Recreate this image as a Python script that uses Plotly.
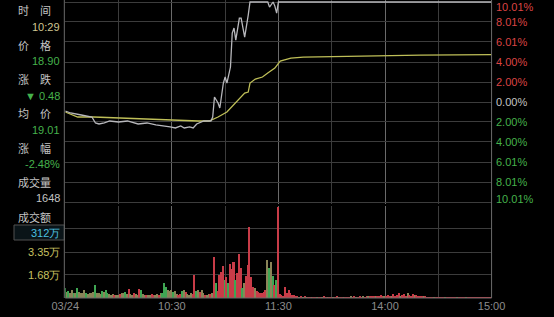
import plotly.graph_objects as go

# ---------------- data ----------------
# minute index (0 = 09:30 ... 120 = 11:30/13:00 ... 240 = 15:00)
price_t = [0, 3, 9, 13, 15, 17, 19, 22, 25, 30, 35, 41, 46, 51, 56, 59, 62, 65, 67, 70,
           72, 74, 78, 82, 83, 84, 86, 87, 89, 90, 91, 93, 94, 95, 96, 98, 99, 101, 103,
           104, 114, 115, 117, 118, 119, 120, 240]
price_pct = [-0.9, -1.1, -1.3, -1.4, -1.5, -2.1, -2.2, -2.1, -1.9, -2.0, -1.9, -2.2, -2.1,
             -2.3, -2.4, -2.5, -2.6, -2.4, -2.6, -2.5, -2.6, -2.2, -1.9, -1.9, -1.5, 0.5,
             -0.1, -0.6, 1.9, 2.5, 1.9, 3.5, 6.9, 7.4, 6.2, 8.4, 8.4, 6.5, 8.7,
             10.01, 10.01, 9.5, 10.01, 9.6, 8.9, 10.01, 10.01]

avg_t = [0, 7, 16, 30, 42, 59, 75, 81, 86, 91, 97, 101, 103, 104, 107, 111, 114, 118,
         121, 127, 134, 160, 200, 240]
avg_pct = [-1.0, -1.5, -1.5, -1.6, -1.7, -1.8, -1.9, -1.9, -1.5, -1.0, 0.2, 0.9, 1.0,
           1.9, 2.3, 2.5, 2.9, 3.4, 4.1, 4.4, 4.5, 4.6, 4.7, 4.75]

# per-minute volume (万), t = 0..240
volume = [
    0.73, 0.45, 0.5, 0.4, 0.55, 0.4, 0.35, 0.75, 0.45, 0.4,
    0.35, 0.6, 0.35, 0.3, 0.4, 0.35, 0.45, 0.95, 0.4, 0.35,
    0.3, 0.5, 0.45, 0.55, 0.4, 0.3, 0.25, 0.3, 0.2, 0.25,
    0.2, 0.3, 0.4, 0.35, 0.45, 0.3, 0.65, 0.3, 0.25, 0.35,
    0.3, 0.25, 0.65, 0.55, 0.3, 0.25, 0.2, 0.25, 0.2, 0.3,
    0.2, 0.25, 0.3, 0.25, 0.35, 0.4, 1.1, 0.8, 0.55, 0.5,
    0.6, 0.45, 0.5, 0.3, 0.25, 0.3, 0.5, 0.6, 0.45, 0.3,
    0.25, 0.35, 0.3, 1.68, 0.5, 0.6, 0.45, 0.55, 0.4, 0.25,
    0.2, 0.3, 0.3, 0.4, 3.0, 1.1, 0.5, 1.68, 1.9, 2.3,
    1.3, 1.5, 1.1, 2.5, 2.1, 2.6, 1.3, 1.8, 3.2, 2.2,
    0.75, 1.1, 1.6, 2.4, 5.2, 1.55, 0.8, 0.75, 0.5, 0.45,
    0.4, 0.35, 0.45, 0.6, 2.8, 2.2, 2.6, 1.6, 0.95, 1.3,
    6.6, 0.3, 0.2, 0.15, 0.8, 0.4, 0.6, 0.35, 0.2, 0.25,
    0.15, 0.1, 0.05, 0.08, 0.06, 0.1, 0.05, 0.04, 0.07, 0.05,
    0.06, 0.05, 0.04, 0.06, 0.03, 0.05, 0.08, 0.04, 0.05, 0.03,
    0.06, 0.04, 0.05, 0.1, 0.04, 0.03, 0.06, 0.05, 0.04, 0.07,
    0.05, 0.08, 0.05, 0.1, 0.06, 0.04, 0.12, 0.05, 0.08, 0.06,
    0.1, 0.12, 0.08, 0.15, 0.1, 0.18, 0.12, 0.08, 0.2, 0.1,
    0.15, 0.12, 0.25, 0.15, 0.1, 0.3, 0.18, 0.2, 0.4, 0.15,
    0.22, 0.3, 0.18, 0.35, 0.2, 0.15, 0.3, 0.2, 0.25, 0.12,
    0.18, 0.15, 0.1, 0.08, 0.05, 0.04, 0.03, 0.05, 0.03, 0.02,
    0.03, 0.02, 0.03, 0.02, 0.02, 0.03, 0.02, 0.02, 0.03, 0.02,
    0.02, 0.02, 0.02, 0.03, 0.02, 0.02, 0.02, 0.03, 0.02, 0.02,
    0.02, 0.02, 0.02, 0.02, 0.03, 0.02, 0.02, 0.02, 0.02, 0.03,
    0.05,
]
# bar direction per minute: r = up, g = down, o = flat
vol_dir = ("gogoogogoo" "oogoooogoo" "ogoggoooro" "oroogoroor" "oorgooroor"
           "roorogggoo" "ogoorrgoro" "oorrgoroor" "oororgrrrr" "grgrrrgrrr"
           "gorrrrrorr" "rrrrogogrg" "rrrrrrrrrrr"
           "rorororrorr" "orrorrorro" "rrorrorrro" "rrorrrorro" "rrrorrrror"
           "rrorrrrorr" "rorrrorrrr" "orrrrrorrr" "rrorrrrrro" "rrrrorrrrr" "rrrrrrrrr")

time_ticks = [0, 60, 120, 180, 240]
time_labels = ["03/24", "10:30", "11:30", "14:00", "15:00"]
minor_ticks = [30, 90, 150, 210]

pct_ticks = [10.01, 8.01, 6.01, 4.00, 2.00, 0.00, -2.00, -4.00, -6.01, -8.01, -10.01]
pct_labels = ["10.01%", "8.01%", "6.01%", "4.00%", "2.00%", "0.00%",
              "2.00%", "4.00%", "6.01%", "8.01%", "10.01%"]

vol_ticks = [0, 1.68, 3.35, 5.03, 6.70]
vol_labels = [(3.35, "3.35万"), (1.68, "1.68万")]

info_rows = [  # (label, value)
    ("时　间", "10:29"),
    ("价　格", "18.90"),
    ("涨　跌", "▼ 0.48"),
    ("均　价", "19.01"),
    ("涨　幅", "-2.48%"),
    ("成交量", "1648"),
]
amount_label = "成交额"
amount_value = "312万"

# ---------------- styling ----------------
W, H = 554, 317
PLOT_H = 298
L_PX, R_PX = 54, 503
BG = "#000000"
GRID = "#3c3c3c"
GRID_MAJOR = "#6a6a6a"
RED = "#dc4444"
GREEN = "#45b24c"
OLIVE = "#8a8458"
LABEL = "#c4c4c4"
FONT = "Liberation Sans, Arial, sans-serif"
CJK = "Noto Sans CJK SC, sans-serif"

def py(p):  # pixel row -> paper y
    return (PLOT_H - p) / PLOT_H

dir_color = {"r": "#c83c48", "g": "#3fa653", "o": OLIVE}
bar_colors = [dir_color[c] for c in vol_dir[:len(volume)]]

fig = go.Figure()
fig.add_trace(go.Scatter(x=avg_t, y=avg_pct, mode="lines",
                         line=dict(color="#bfbf58", width=1.3), xaxis="x", yaxis="y",
                         hoverinfo="skip"))
fig.add_trace(go.Scatter(x=price_t, y=price_pct, mode="lines",
                         line=dict(color="#b8b8bc", width=1.3), xaxis="x", yaxis="y",
                         cliponaxis=False, hoverinfo="skip"))
fig.add_trace(go.Bar(x=list(range(len(volume))), y=volume, marker=dict(color=bar_colors, line=dict(width=0)),
                     width=0.85, xaxis="x2", yaxis="y2", hoverinfo="skip"))

xdom = [L_PX / W, R_PX / W]
common_x = dict(range=[0, 240], domain=xdom, tickvals=time_ticks, showgrid=True,
                gridcolor=GRID_MAJOR, gridwidth=1, zeroline=False, showline=False,
                minor=dict(tickvals=minor_ticks, showgrid=True, gridcolor=GRID, gridwidth=1),
                fixedrange=True)

fig.update_layout(
    width=W, height=H, margin=dict(l=0, r=0, t=0, b=H - PLOT_H),
    paper_bgcolor=BG, plot_bgcolor=BG, showlegend=False, bargap=0,
    xaxis=dict(**common_x, anchor="y", showticklabels=False),
    xaxis2=dict(**common_x, anchor="y2", ticktext=time_labels, showticklabels=True,
                ticks="", tickfont=dict(family=FONT, size=11, color="#8c8c8c")),
    yaxis=dict(range=[-10.21, 10.21], domain=[py(204), 1.0], tickvals=pct_ticks,
               showticklabels=False, gridcolor=GRID, zeroline=False, fixedrange=True),
    yaxis2=dict(range=[0, 6.70], domain=[0, py(206)], tickvals=vol_ticks,
                showticklabels=False, gridcolor=GRID, zeroline=False, fixedrange=True),
)

ann = []
# right percentage labels
for v, txt in zip(pct_ticks, pct_labels):
    col = RED if v > 0 else (GREEN if v < 0 else LABEL)
    shift = -5 if v == pct_ticks[0] else (3 if v == pct_ticks[-1] else 0)
    ann.append(dict(x=(R_PX + 3) / W, xref="paper", y=v, yref="y", text=txt,
                    xanchor="left", yanchor="middle", yshift=shift, showarrow=False,
                    font=dict(family=FONT, size=11, color=col)))

# left info panel
row_y = [10, 45, 79, 113, 148, 182]
val_y = [27, 61, 96, 130, 164, 198]
val_cols = ["#d0c690", GREEN, GREEN, GREEN, GREEN, LABEL]
for (lab, val), ly, vy, vc in zip(info_rows, row_y, val_y, val_cols):
    ann.append(dict(x=2 / W, xref="paper", y=py(ly), yref="paper", text=lab,
                    xanchor="left", yanchor="middle", showarrow=False,
                    font=dict(family=CJK, size=11, color=LABEL)))
    ann.append(dict(x=51 / W, xref="paper", y=py(vy), yref="paper", text=val,
                    xanchor="right", yanchor="middle", showarrow=False,
                    font=dict(family=FONT, size=11, color=vc)))
ann.append(dict(x=2 / W, xref="paper", y=py(217), yref="paper", text=amount_label,
                xanchor="left", yanchor="middle", showarrow=False,
                font=dict(family=CJK, size=11, color=LABEL)))
ann.append(dict(x=51 / W, xref="paper", y=py(233), yref="paper", text=amount_value,
                xanchor="right", yanchor="middle", showarrow=False,
                font=dict(family=FONT, size=11, color="#4cc0e0")))
for v, txt in vol_labels:
    ann.append(dict(x=51 / W, xref="paper", y=v, yref="y2", text=txt,
                    xanchor="right", yanchor="middle", showarrow=False,
                    font=dict(family=FONT, size=11, color="#c8c060")))

shapes = [
    dict(type="line", xref="paper", yref="paper", x0=53 / W, x1=53 / W, y0=0, y1=1,
         line=dict(color="#6a6a6a", width=1)),
    dict(type="line", xref="paper", yref="paper", x0=R_PX / W, x1=R_PX / W, y0=0, y1=1,
         line=dict(color="#6a6a6a", width=1)),
    dict(type="rect", xref="paper", yref="paper", x0=0, x1=53 / W, y0=py(240), y1=py(225),
         line=dict(color="#505050", width=1), fillcolor="#0a1418", layer="below"),
    dict(type="line", xref="paper", yref="paper", x0=L_PX / W, x1=R_PX / W, y0=0, y1=0,
         line=dict(color="#6a6a6a", width=1)),
]
fig.update_layout(annotations=ann, shapes=shapes)

fig.write_html("out.html")
